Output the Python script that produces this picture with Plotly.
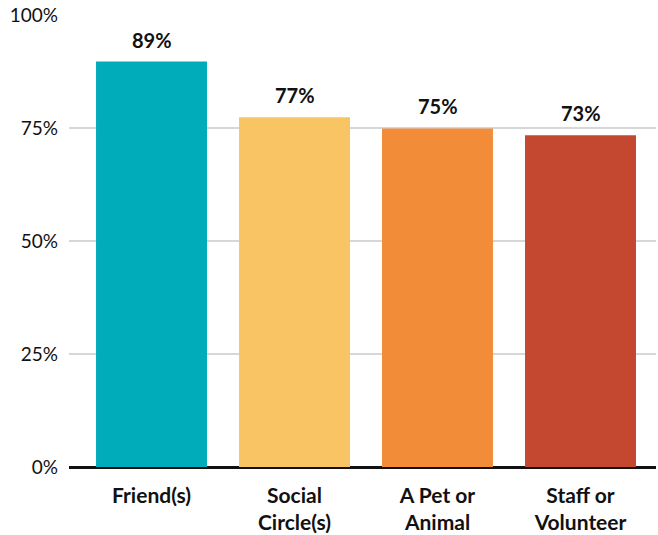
import plotly.graph_objects as go

categories = ["Friend(s)", "Social<br>Circle(s)", "A Pet or<br>Animal", "Staff or<br>Volunteer"]
values = [89.7, 77.4, 74.9, 73.4]
value_labels = ["89%", "77%", "75%", "73%"]
colors = ["#00ABBA", "#F9C463", "#F28C38", "#C4482F"]
tick_vals = [0, 25, 50, 75, 100]
tick_text = ["0%", "25%", "50%", "75%", "100%"]

fig = go.Figure()
fig.add_trace(go.Bar(
    x=list(range(len(categories))), y=values,
    marker=dict(color=colors, line=dict(width=0)),
    width=0.776, hoverinfo="skip",
))
for i, (v, t) in enumerate(zip(values, value_labels)):
    fig.add_annotation(x=i, y=v, text="<b>" + t + "</b>", showarrow=False,
                       yanchor="bottom", yshift=8,
                       font=dict(family="Lato, Open Sans, sans-serif", size=20, color="#111"))

fig.update_layout(
    width=658, height=535,
    margin=dict(l=69, r=2, t=15, b=68),
    plot_bgcolor="white", paper_bgcolor="white",
    showlegend=False,
    font=dict(family="Lato, Open Sans, sans-serif", color="#111"),
)
fig.update_xaxes(
    range=[-0.577, 3.528],
    tickvals=list(range(len(categories))),
    ticktext=["<b>" + c + "</b>" for c in categories],
    tickfont=dict(size=21, color="#111"),
    showgrid=False, zeroline=False,
    showline=False, ticks="", ticklabelstandoff=14,
)
fig.update_yaxes(
    range=[0, 100], tickvals=tick_vals, ticktext=tick_text,
    tickfont=dict(size=19, color="#111"),
    showgrid=True, gridcolor="#D5D8D8", gridwidth=1.5,
    zeroline=True, zerolinecolor="#111", zerolinewidth=2.5,
    showline=False, ticks="", ticklabelstandoff=10,
)
fig.write_html("out.html")
